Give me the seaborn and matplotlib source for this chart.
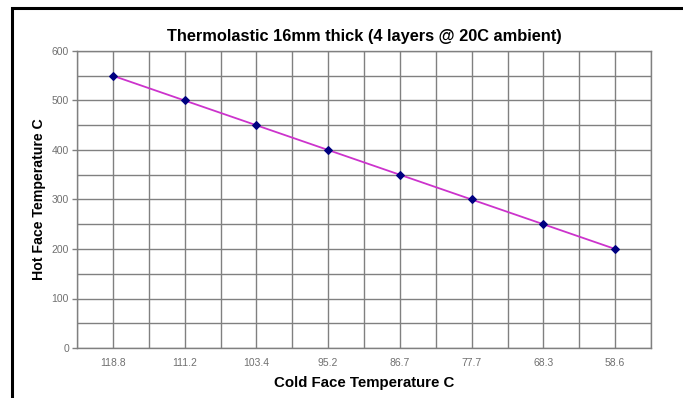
import matplotlib
matplotlib.use("Agg")
import matplotlib.pyplot as plt
import seaborn as sns
import pandas as pd
import numpy as np
from matplotlib.ticker import MultipleLocator, FixedLocator
from matplotlib.patches import Rectangle

cold_face = ["118.8", "111.2", "103.4", "95.2", "86.7", "77.7", "68.3", "58.6"]
hot_face = [550, 500, 450, 400, 350, 300, 250, 200]

sns.set_theme(style="white")
plt.rcParams["font.family"] = ["Liberation Sans", "DejaVu Sans"]

df = pd.DataFrame({"cold": cold_face, "hot": hot_face})

fig = plt.figure(figsize=(6.83, 3.98), dpi=100)
ax = fig.add_axes([77/683, 1-348/398, (651-77)/683, (348-51)/398])

sns.lineplot(data=df, x="cold", y="hot", sort=False, ax=ax, color="#CC33CC",
             linewidth=1.3, marker="D", markersize=4, markerfacecolor="#000080",
             markeredgecolor="#000080", zorder=3)

n = len(cold_face)
ax.set_xlim(-0.5, n - 0.5)
ax.set_ylim(0, 600)
ax.yaxis.set_major_locator(MultipleLocator(100))
ax.yaxis.set_minor_locator(MultipleLocator(50))
ax.xaxis.set_minor_locator(FixedLocator(np.arange(-0.5, n, 1.0)))

grid_c = "#808080"
ax.grid(True, which="both", axis="both", color=grid_c, linewidth=1.0)
ax.set_axisbelow(True)
for s in ax.spines.values():
    s.set_color(grid_c)
    s.set_linewidth(1.0)

ax.tick_params(axis="y", which="major", labelsize=7.5, labelcolor="#707070",
               color=grid_c, length=3.8, width=1, direction="out", left=True, pad=2)
ax.tick_params(axis="y", which="minor", length=0, left=False)
ax.tick_params(axis="x", which="both", labelsize=7.5, labelcolor="#707070",
               length=0, bottom=False, pad=7)

ax.set_xlabel("Cold Face Temperature C", fontsize=10.8, fontweight="bold", color="black", labelpad=6)
ax.set_ylabel("Hot Face Temperature C", fontsize=10.2, fontweight="bold", color="black", labelpad=4)
ax.set_title("Thermolastic 16mm thick (4 layers @ 20C ambient)", fontsize=11.8,
             fontweight="bold", color="black", pad=7)

# outer frame of the chart area
fig.patches.append(Rectangle((12/683, -0.1), 1.0, 1 - 8/398 + 0.1, transform=fig.transFigure,
                             fill=False, edgecolor="black", linewidth=2.2))

fig.savefig("out.png", dpi=100)
